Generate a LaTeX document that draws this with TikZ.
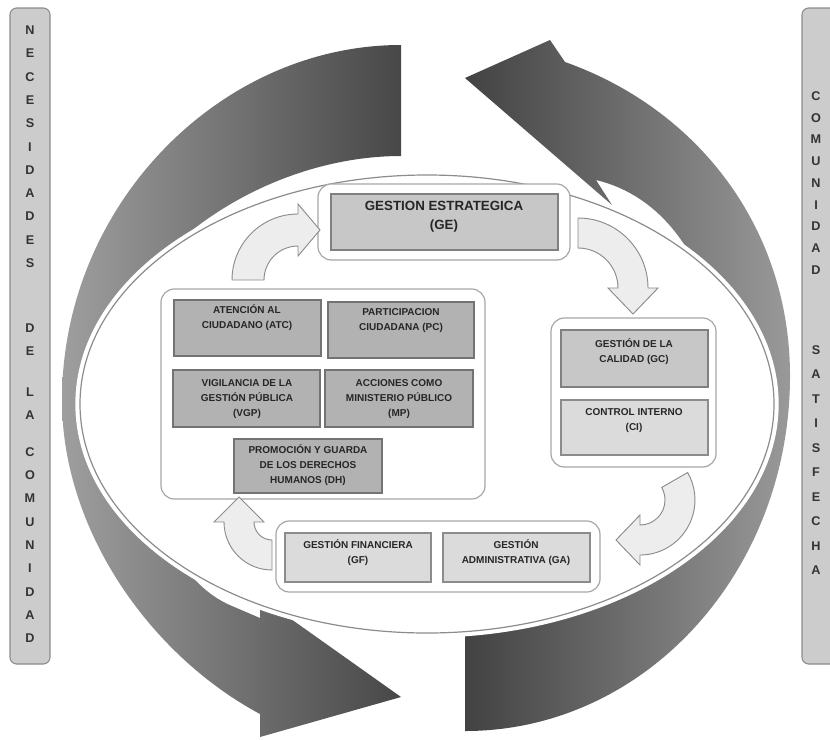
\documentclass[tikz,border=0pt]{standalone}
\usepackage{fontspec}
\setmainfont{Liberation Sans}
\usetikzlibrary{fit}
\begin{document}
\begin{tikzpicture}[x=0.75pt,y=-0.75pt,
  sidebar/.style={draw=black!45, fill=black!20, rounded corners=5pt, line width=0.8pt},
  barletter/.style={font=\bfseries\fontsize{9.5}{11}\selectfont, text=black!80, inner sep=0pt},
  bigarrowL/.style={left color=black!38, right color=black!72, draw=none},
  bigarrowR/.style={left color=black!74, right color=black!40, draw=none},
  grp/.style={draw=black!35, fill=white, rounded corners=10pt, line width=0.9pt},
  lbox/.style={draw=black!55, fill=black!30, line width=0.9pt, inner sep=0pt},
  mbox/.style={draw=black!50, fill=black!22, line width=0.9pt, inner sep=0pt},
  sbox/.style={draw=black!45, fill=black!14, line width=0.9pt, inner sep=0pt},
  lbl/.style={font=\bfseries\fontsize{7.5}{11.25}\selectfont, align=center, text=black!85, inner sep=0pt},
  gelbl/.style={font=\bfseries\fontsize{10}{14.25}\selectfont, align=center, text=black!85, inner sep=0pt},
  smallarrow/.style={draw=black!45, fill=black!7, line width=0.7pt}]
\useasboundingbox (0,0) rectangle (830,739);
\fill[white] (0,0) rectangle (830,739);

% side bars
\draw[sidebar] (10,8) rectangle (50,664);
\foreach \l/\y in {N/30,E/53,C/77,E/100,S/123,I/147,D/170,A/193,D/216,E/240,S/263,
                   D/328,E/351,L/392,A/415,
                   C/452,O/475,M/498,U/522,N/545,I/568,D/592,A/615,D/638}
  \node[barletter] (nl\y) at (30,\y) {\l};
\draw[sidebar] (802,8) rectangle (845,664);
\foreach \l/\y in {C/96,O/118,M/139,U/161,N/183,I/205,D/226,A/248,D/270,
                   S/350,A/374,T/399,I/423,S/448,F/472,E/497,C/521,H/546,A/570}
  \node[barletter] (nr\y) at (816,\y) {\l};

% big circular arrows
\path[bigarrowL] (401,45) -- (401,156)
  .. controls (330,156) and (255,182) .. (195,228)
  .. controls (110,300) and (120,560) .. (232,606)
  -- (260,618) -- (260,597) -- (401,697) -- (260,737) -- (260,714)
  .. controls (150,655) and (62,530) .. (62,400)
  .. controls (62,205) and (220,45) .. (401,45) -- cycle;
\path[bigarrowR] (465,731) -- (465,635)
  .. controls (536,635) and (611,594) .. (671,548)
  .. controls (756,476) and (746,216) .. (596,180)
  -- (612,205) -- (465,78) -- (550,40) -- (565,62)
  .. controls (700,110) and (790,230) .. (790,376)
  .. controls (790,571) and (646,731) .. (465,731) -- cycle;

% central ellipse
\draw[white, line width=7pt, fill=white] (427,404) ellipse [x radius=347, y radius=229];
\draw[black!45, line width=0.9pt] (427,404) ellipse [x radius=347, y radius=229];

% groups
\draw[grp] (318,184) rectangle (570,260);
\node[mbox, fit={(331,194)(558,250)}] (ge) {};
\node[gelbl] (get) at (444,217) {GESTION ESTRATEGICA\\(GE)};

\draw[grp] (161,289) rectangle (485,499);
\node[lbox, fit={(174,300)(321,356)}] (atc) {};
\node[lbl] (atct) at (247,318) {ATENCIÓN AL\\CIUDADANO (ATC)};
\node[lbox, fit={(328,302)(474,358)}] (pc) {};
\node[lbl] (pct) at (401,321) {PARTICIPACION\\CIUDADANA (PC)};
\node[lbox, fit={(173,370)(320,427)}] (vgp) {};
\node[lbl] (vgpt) at (247,399) {VIGILANCIA DE LA\\GESTIÓN PÚBLICA\\(VGP)};
\node[lbox, fit={(325,370)(473,427)}] (mp) {};
\node[lbl] (mpt) at (399,399) {ACCIONES COMO\\MINISTERIO PÚBLICO\\(MP)};
\node[lbox, fit={(234,439)(382,493)}] (dh) {};
\node[lbl] (dht) at (308,465) {PROMOCIÓN Y GUARDA\\DE LOS DERECHOS\\HUMANOS (DH)};

\draw[grp] (551,318) rectangle (716,467);
\node[mbox, fit={(561,330)(708,387)}] (gc) {};
\node[lbl] (gct) at (634,352) {GESTIÓN DE LA\\CALIDAD (GC)};
\node[sbox, fit={(561,400)(708,455)}] (ci) {};
\node[lbl] (cit) at (634,421) {CONTROL INTERNO\\(CI)};

\draw[grp] (276,521) rectangle (600,592);
\node[sbox, fit={(285,533)(431,582)}] (gf) {};
\node[lbl] (gft) at (358,553) {GESTIÓN FINANCIERA\\(GF)};
\node[sbox, fit={(443,533)(590,582)}] (ga) {};
\node[lbl] (gat) at (516,553) {GESTIÓN\\ADMINISTRATIVA (GA)};

% small curved arrows
\draw[smallarrow] (232,280) arc[start angle=180, end angle=270, radius=66]
  -- (298,204) -- (320,230) -- (298,256) -- (298,246)
  arc[start angle=270, end angle=180, radius=34] -- cycle;
\draw[smallarrow] (578,218) arc[start angle=270, end angle=360, radius=70]
  -- (658,288) -- (633,314) -- (608,288) -- (618,288)
  arc[start angle=360, end angle=270, radius=40] -- cycle;
\draw[smallarrow] (687.6,472.5) arc[start angle=-30, end angle=90, radius=55]
  -- (640,565) -- (616,540) -- (640,515) -- (640,525)
  arc[start angle=90, end angle=-30, radius=25] -- cycle;
\draw[smallarrow] (272,570) arc[start angle=90, end angle=180, radius=48]
  -- (214,522) -- (239,497) -- (264,522) -- (254,522)
  arc[start angle=180, end angle=90, radius=18] -- cycle;
\end{tikzpicture}
\end{document}
